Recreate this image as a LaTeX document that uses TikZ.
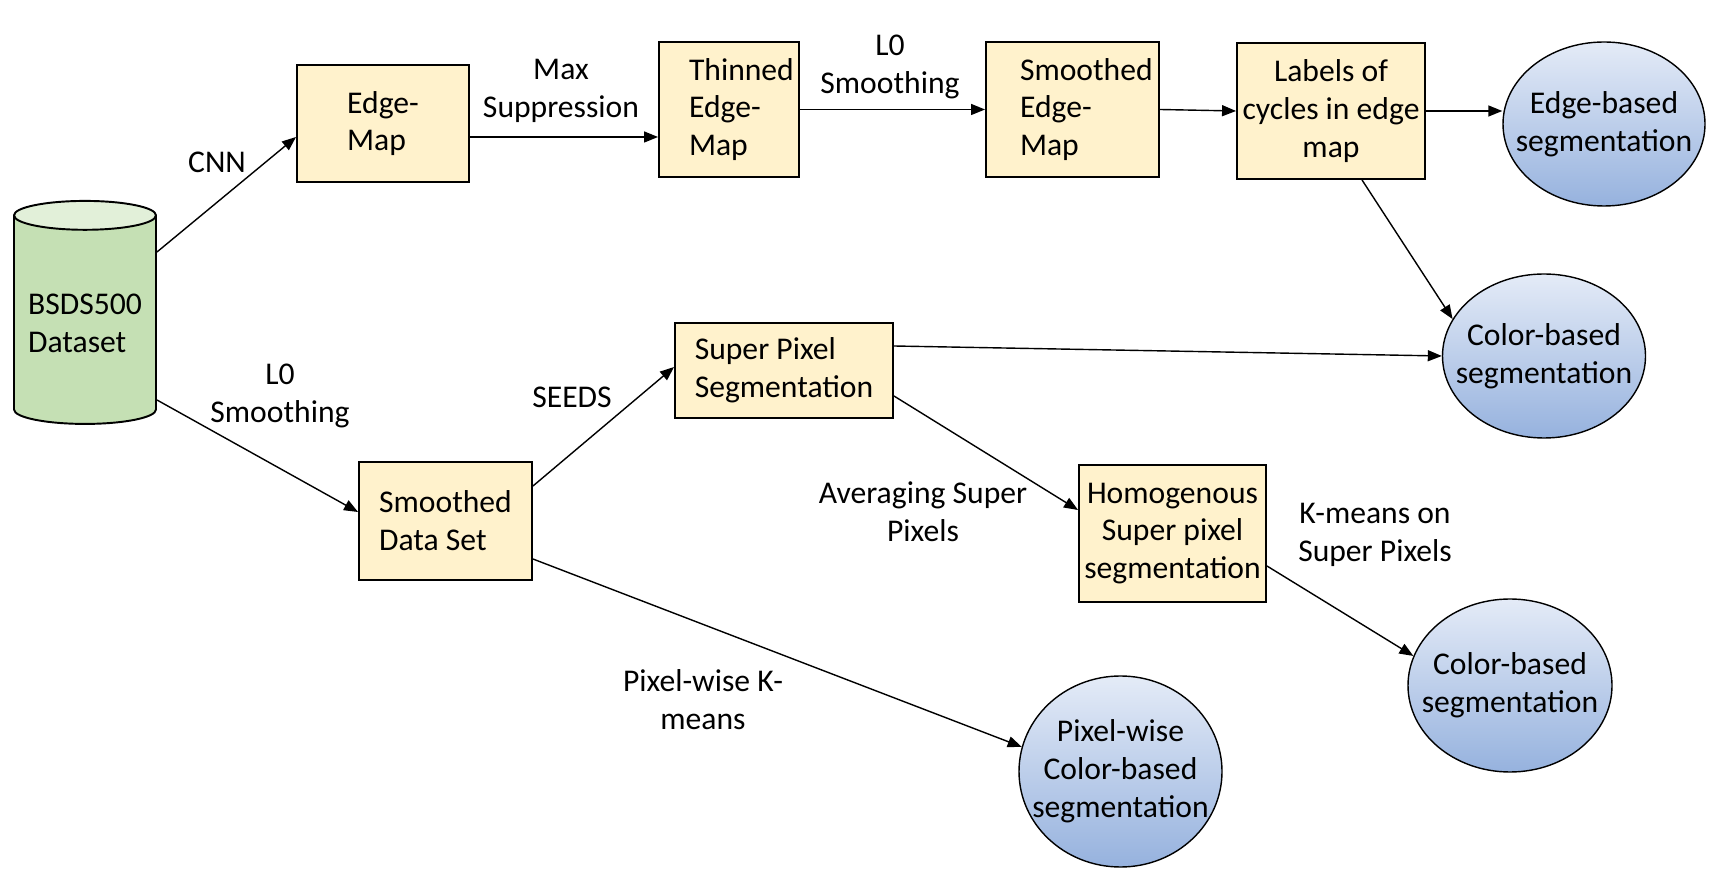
\documentclass[tikz,border=0pt]{standalone}
\usepackage{fontspec}
\setmainfont{Carlito}
\usepackage{tikz}
\usetikzlibrary{arrows.meta,positioning,shapes.geometric}

\definecolor{boxfill}{RGB}{255,242,204}
\definecolor{dbbody}{RGB}{197,224,180}
\definecolor{dbtop}{RGB}{226,240,217}
\definecolor{segtop}{RGB}{228,235,247}
\definecolor{segbot}{RGB}{150,178,222}

\begin{document}
\begin{tikzpicture}[
  font=\fontsize{18}{21.5}\selectfont,
  box/.style={draw, line width=1.1pt, fill=boxfill, align=center, inner sep=2pt},
  seg/.style={draw, ellipse, line width=0.8pt, top color=segtop, bottom color=segbot, align=center, inner xsep=-0.6cm, inner ysep=0pt},
  db/.style={draw, cylinder, shape border rotate=90, aspect=0.23, line width=1.1pt,
    cylinder uses custom fill, cylinder body fill=dbbody, cylinder end fill=dbtop, align=left},
  lbl/.style={align=center},
  arr/.style={-{Triangle[length=0.28cm, width=0.22cm]}, line width=0.8pt}]
  \useasboundingbox (0,0) rectangle (34.32,17.52);
  % data and boxes
  \node[db, minimum width=2.84cm, minimum height=4.46cm] (data) at (1.70,11.06) {BSDS500\\Dataset};
  \node[box, align=left, minimum width=3.44cm, minimum height=2.34cm] (edgemap) at (7.66,15.05) {Edge-\\Map};
  \node[box, align=left, text width=1.6cm, minimum width=2.80cm, minimum height=2.70cm] (thinned) at (14.58,15.33) {Thinned\\Edge-\\Map};
  \node[box, align=left, text width=2.1cm, minimum width=3.46cm, minimum height=2.70cm] (smap) at (21.45,15.33) {Smoothed\\Edge-\\Map};
  \node[box, minimum width=3.76cm, minimum height=2.72cm] (labels) at (26.62,15.30) {Labels of\\cycles in edge\\map};
  \node[box, align=left, minimum width=4.36cm, minimum height=1.90cm] (superpix) at (15.68,10.11) {Super Pixel\\Segmentation};
  \node[box, align=left, minimum width=3.46cm, minimum height=2.36cm] (sset) at (8.91,7.10) {Smoothed\\Data Set};
  \node[box, minimum width=3.74cm, minimum height=2.74cm] (homog) at (23.45,6.85) {Homogenous\\Super pixel\\segmentation};
  % results
  \node[seg, minimum width=4.04cm, minimum height=3.28cm] (edgeseg) at (32.08,15.04) {Edge-based\\segmentation};
  \node[seg, minimum width=4.06cm, minimum height=3.28cm] (colorseg1) at (30.88,10.40) {Color-based\\segmentation};
  \node[seg, minimum width=4.08cm, minimum height=3.46cm] (colorseg2) at (30.20,3.81) {Color-based\\segmentation};
  \node[seg, minimum width=4.06cm, minimum height=3.82cm] (pixseg) at (22.41,2.09) {Pixel-wise\\Color-based\\segmentation};
  % edge labels
  \node[lbl] (cnn) at (4.34,14.28) {CNN};
  \node[lbl] (maxsup) at (11.22,15.70) {Max\\Suppression};
  \node[lbl] (lzeroa) at (17.80,16.18) {L0\\Smoothing};
  \node[lbl] (lzerob) at (5.60,9.60) {L0\\Smoothing};
  \node[lbl] (seeds) at (11.44,9.58) {SEEDS};
  \node[lbl] (avg) at (18.46,7.28) {Averaging Super\\Pixels};
  \node[lbl] (kmsp) at (27.50,6.82) {K-means on\\Super Pixels};
  \node[lbl] (pixkm) at (14.06,3.52) {Pixel-wise K-\\means};
  % connectors
  \draw[arr] ([yshift=1.42cm]data.east) -- ([yshift=-0.27cm]edgemap.west);
  \draw[arr] ([yshift=-1.54cm]data.east) -- ([yshift=0.18cm]sset.west);
  \draw[arr] ([yshift=-0.27cm]edgemap.east) -- ([yshift=-0.55cm]thinned.west);
  \draw[arr] (thinned.east) -- (smap.west);
  \draw[arr] (smap.east) -- (labels.west);
  \draw[arr] (labels.east) -- (labels.east -| edgeseg.west);
  \draw[arr] ([xshift=0.62cm]labels.south) -- (colorseg1.158);
  \draw[arr] ([yshift=0.49cm]superpix.east) -- (colorseg1.west);
  \draw[arr] ([yshift=-0.51cm]superpix.east) -- ([yshift=0.47cm]homog.west);
  \draw[arr] ([yshift=0.70cm]sset.east) -- ([yshift=0.07cm]superpix.west);
  \draw[arr] ([yshift=-0.76cm]sset.east) -- (pixseg.166);
  \draw[arr] ([yshift=-0.65cm]homog.east) -- (colorseg2.163);
\end{tikzpicture}
\end{document}
